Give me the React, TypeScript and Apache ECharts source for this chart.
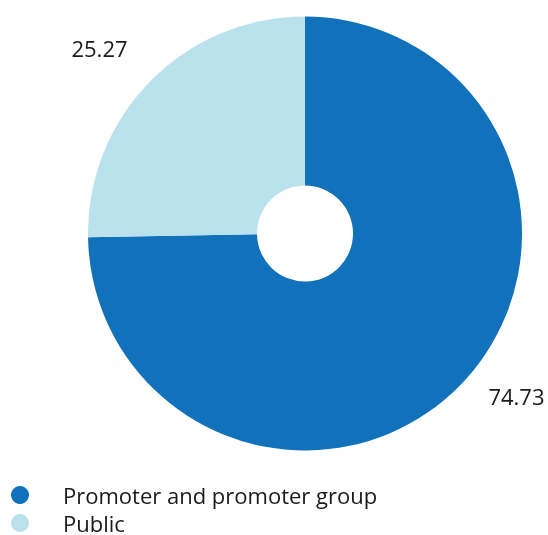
import React, { useEffect, useRef } from "react";
import * as echarts from "echarts";

const categories = ["Promoter and promoter group", "Public"];
const values = [74.73, 25.27];
const colors = ["#1271bb", "#b9e2ec"];

export default function App() {
  const ref = useRef<HTMLDivElement>(null);
  useEffect(() => {
    if (!ref.current) return;
    const chart = echarts.init(ref.current, null, { renderer: "svg" });
    const font = "'Open Sans', Lato, sans-serif";
    chart.setOption({
      animation: false,
      color: colors,
      legend: {
        orient: "vertical",
        left: 11,
        top: 484,
        height: 60,
        padding: 0,
        icon: "circle",
        itemWidth: 18,
        itemHeight: 18,
        itemGap: 6,
        data: categories,
        textStyle: {
          fontFamily: font,
          fontSize: 22,
          lineHeight: 22,
          color: "#1a1a1a",
          padding: [0, 0, 0, 29],
        },
      },
      series: [
        {
          type: "pie",
          center: [305, 233.5],
          radius: [48, 217],
          startAngle: 90,
          clockwise: true,
          avoidLabelOverlap: false,
          emphasis: { disabled: true },
          label: {
            show: true,
            position: "outside",
            formatter: (p: any) => p.value.toFixed(2),
            fontFamily: font,
            fontSize: 22,
            color: "#1a1a1a",
          },
          labelLine: { show: false, length: 15, length2: 13 },
          labelLayout: (p: any) =>
            p.dataIndex === 1 ? { dx: 6, dy: -23 } : {},
          data: categories.map((c, i) => ({ name: c, value: values[i] })),
        },
      ],
    });
    return () => chart.dispose();
  }, []);
  return (
    <div
      ref={ref}
      style={{ position: "fixed", left: 0, top: 0, width: 548, height: 535 }}
    />
  );
}
